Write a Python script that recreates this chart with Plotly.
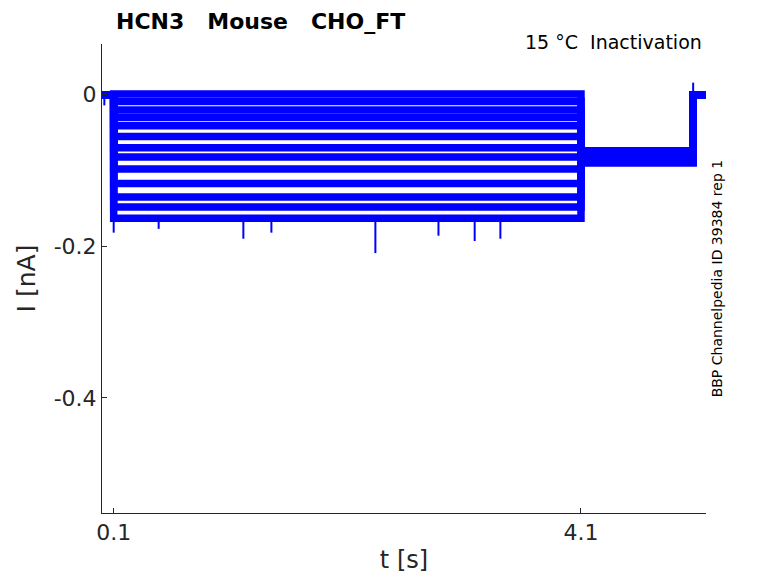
import plotly.graph_objects as go

# Step protocol times [s]
t_steps = [0.0, 0.1, 4.1, 5.06, 5.17]

# Current levels of each sweep during the test step [nA]
step_levels = [0.001, -0.009, -0.020, -0.030, -0.041, -0.055, -0.070,
               -0.082, -0.098, -0.117, -0.135, -0.148, -0.163]
# Current of each sweep during the tail step [nA]
tail_levels = [-0.074, -0.076, -0.077, -0.079, -0.080, -0.081, -0.082,
               -0.083, -0.084, -0.086, -0.087, -0.089, -0.090]
baseline = 0.0

# Transient peaks seen on the traces (time [s], from / to current [nA])
spike_t = [0.02, 0.1, 0.485, 1.21, 1.45, 2.34, 2.88, 3.19, 3.41, 5.06]
spike_from = [0.0, -0.150, -0.162, -0.162, -0.162, -0.162, -0.162, -0.162, -0.162, 0.0]
spike_peak = [-0.014, -0.182, -0.177, -0.190, -0.182, -0.209, -0.186, -0.193, -0.190, 0.016]

blue = '#0000FF'
ink = '#262626'
font = 'DejaVu Sans'
sp = '\u00a0'

fig = go.Figure()

for lvl, tail in zip(step_levels, tail_levels):
    fig.add_trace(go.Scatter(
        x=t_steps,
        y=[baseline, lvl, tail, baseline, baseline],
        mode='lines',
        line=dict(color=blue, width=7.5, shape='hv'),
        showlegend=False,
        hoverinfo='skip'
    ))

# Spikes as thin vertical strokes
sx, sy = [], []
for t, y0, y1 in zip(spike_t, spike_from, spike_peak):
    sx += [t, t, None]
    sy += [y0, y1, None]
fig.add_trace(go.Scatter(
    x=sx, y=sy, mode='lines',
    line=dict(color=blue, width=2),
    showlegend=False, hoverinfo='skip'
))

fig.update_layout(
    width=778, height=583,
    margin=dict(l=94, r=80, t=36, b=78),
    plot_bgcolor='white', paper_bgcolor='white',
    font=dict(family=font, color=ink),
    xaxis=dict(
        range=[0.0, 5.17],
        tickvals=[0.1, 4.1], ticktext=['0.1', '4.1'],
        ticks='inside', ticklen=5, tickcolor=ink,
        showline=True, linecolor=ink, linewidth=1,
        showgrid=False, zeroline=False,
        tickfont=dict(size=22, color=ink),
        title=dict(text='t [s]', font=dict(size=24, color=ink), standoff=6)
    ),
    yaxis=dict(
        range=[-0.552, 0.067],
        tickvals=[0, -0.2, -0.4], ticktext=['0', '-0.2', '-0.4'],
        ticks='inside', ticklen=5, tickcolor=ink,
        showline=True, linecolor=ink, linewidth=1,
        showgrid=False, zeroline=False,
        tickfont=dict(size=22, color=ink),
        title=dict(text='I [nA]', font=dict(size=25, color=ink), standoff=10)
    ),
    annotations=[
        dict(text='<b>HCN3' + sp * 3 + 'Mouse' + sp * 3 + 'CHO_FT</b>',
             xref='paper', yref='paper',
             x=0.020, y=1.047, xanchor='left', yanchor='middle',
             showarrow=False, font=dict(size=22, color='black', family=font)),
        dict(text='15 °C' + sp * 2 + 'Inactivation', xref='paper', yref='paper',
             x=0.997, y=1.004, xanchor='right', yanchor='middle',
             showarrow=False, font=dict(size=19, color='black', family=font)),
        dict(text='BBP Channelpedia ID 39384 rep 1', xref='paper', yref='paper',
             x=1.018, y=0.5, xanchor='center', yanchor='middle',
             textangle=-90, showarrow=False,
             font=dict(size=14, color='black', family=font)),
    ]
)

fig.write_html("out.html")
